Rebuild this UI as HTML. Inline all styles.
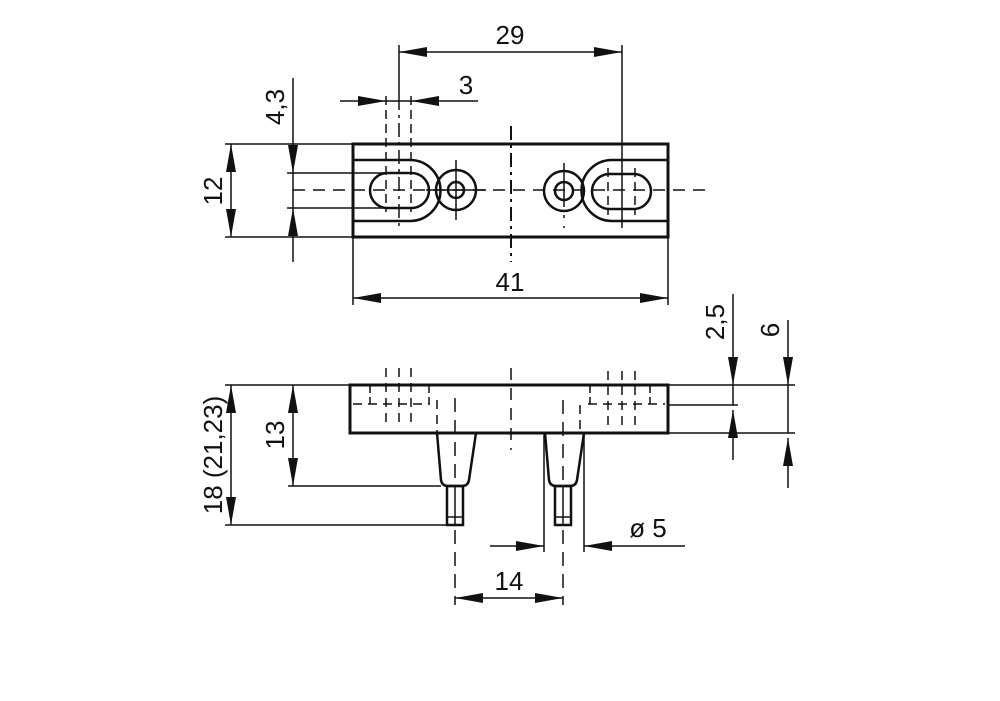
<!DOCTYPE html>
<html><head><meta charset="utf-8"><style>
html,body{margin:0;padding:0;background:#fff;}
svg{display:block;}
text{font-family:"Liberation Sans",sans-serif;font-size:26px;fill:#111;}
</style></head><body>
<svg width="1000" height="701" viewBox="0 0 1000 701" xmlns="http://www.w3.org/2000/svg">
<defs>
<marker id="a" markerWidth="28" markerHeight="10" refX="28" refY="5" orient="auto" markerUnits="userSpaceOnUse">
<path d="M0,0 L28,5 L0,10 Z" fill="#111"/></marker>
</defs>
<g stroke="#111" fill="none">
<!-- TOP VIEW -->
<rect x="353" y="144" width="315" height="93" stroke-width="3"/>
<path d="M353,160 H410 A30,30 0 0 1 410,221 H353" stroke-width="2.5"/>
<path d="M668,160 H612 A30,30 0 0 0 612,221 H668" stroke-width="2.5"/>
<rect x="370" y="173" width="59" height="35" rx="17.5" stroke-width="2.5"/>
<rect x="592" y="174" width="59" height="35" rx="17.5" stroke-width="2.5"/>
<circle cx="456" cy="190" r="20" stroke-width="2.5"/>
<circle cx="456" cy="190" r="8" stroke-width="2.5"/>
<circle cx="564" cy="191" r="20" stroke-width="2.5"/>
<circle cx="564" cy="191" r="9" stroke-width="2.5"/>
<g stroke-width="1.5">
<line x1="293" y1="190" x2="705" y2="190" stroke-dasharray="12,8"/>
<line x1="511" y1="126" x2="511" y2="262" stroke-dasharray="14,5,3,5" stroke-width="2"/>
<line x1="399" y1="96" x2="399" y2="228" stroke-dasharray="14,5,3,5"/>
<line x1="386" y1="96" x2="386" y2="212" stroke-dasharray="9,5"/>
<line x1="411" y1="96" x2="411" y2="212" stroke-dasharray="9,5"/>
<line x1="622" y1="45" x2="622" y2="228"/>
<line x1="608" y1="168" x2="608" y2="215" stroke-dasharray="9,5"/>
<line x1="635" y1="168" x2="635" y2="215" stroke-dasharray="9,5"/>
<line x1="456" y1="160" x2="456" y2="220"/>
<line x1="426" y1="190" x2="486" y2="190"/>
<line x1="564" y1="163" x2="564" y2="228" stroke-dasharray="44,8,3,8"/>
<!-- 29 -->
<line x1="399" y1="45" x2="399" y2="96"/>
<line x1="510" y1="52" x2="399" y2="52" marker-end="url(#a)"/>
<line x1="510" y1="52" x2="622" y2="52" marker-end="url(#a)"/>
<!-- 3 -->
<line x1="340" y1="101" x2="386" y2="101" marker-end="url(#a)"/>
<line x1="478" y1="101" x2="411" y2="101" marker-end="url(#a)"/>
<line x1="386" y1="101" x2="411" y2="101"/>
<!-- 4,3 & 12 -->
<line x1="225" y1="144" x2="353" y2="144"/>
<line x1="225" y1="237" x2="353" y2="237"/>
<line x1="287" y1="173" x2="400" y2="173"/>
<line x1="287" y1="208" x2="400" y2="208"/>
<line x1="293" y1="78" x2="293" y2="173" marker-end="url(#a)"/>
<line x1="293" y1="173" x2="293" y2="208"/>
<line x1="293" y1="262" x2="293" y2="208" marker-end="url(#a)"/>
<line x1="231" y1="190" x2="231" y2="144" marker-end="url(#a)"/>
<line x1="231" y1="190" x2="231" y2="237" marker-end="url(#a)"/>
<!-- 41 -->
<line x1="353" y1="237" x2="353" y2="305"/>
<line x1="668" y1="237" x2="668" y2="305"/>
<line x1="510" y1="298" x2="353" y2="298" marker-end="url(#a)"/>
<line x1="510" y1="298" x2="668" y2="298" marker-end="url(#a)"/>
</g>

<!-- SIDE VIEW -->
<rect x="350" y="385" width="318" height="48" stroke-width="3"/>
<path d="M437,433 L441,480 Q442,486 448,486 H462 Q468,486 469,480 L476,433" stroke-width="2.5"/>
<rect x="447" y="486" width="16" height="39" stroke-width="2.5"/>
<path d="M545,433 L549,480 Q550,486 556,486 H570 Q576,486 577,480 L584,433" stroke-width="2.5"/>
<rect x="555" y="486" width="16" height="39" stroke-width="2.5"/>
<g stroke-width="1.5">
<line x1="447" y1="517" x2="463" y2="517"/>
<line x1="455" y1="486" x2="455" y2="525"/>
<line x1="555" y1="517" x2="571" y2="517"/>
<line x1="563" y1="486" x2="563" y2="525"/>
<line x1="511" y1="368" x2="511" y2="450" stroke-dasharray="12,8"/>
<line x1="386" y1="368" x2="386" y2="425" stroke-dasharray="9,6"/>
<line x1="399" y1="368" x2="399" y2="425" stroke-dasharray="9,6"/>
<line x1="411" y1="368" x2="411" y2="425" stroke-dasharray="9,6"/>
<line x1="353" y1="404" x2="430" y2="404" stroke-dasharray="9,6"/>
<line x1="370" y1="385" x2="370" y2="404" stroke-dasharray="8,4"/>
<line x1="429" y1="385" x2="429" y2="404" stroke-dasharray="8,4"/>
<line x1="608" y1="371" x2="608" y2="425" stroke-dasharray="9,6"/>
<line x1="622" y1="371" x2="622" y2="425" stroke-dasharray="9,6"/>
<line x1="635" y1="371" x2="635" y2="425" stroke-dasharray="9,6"/>
<line x1="588" y1="404" x2="665" y2="404" stroke-dasharray="9,6"/>
<line x1="590" y1="385" x2="590" y2="404" stroke-dasharray="8,4"/>
<line x1="650" y1="385" x2="650" y2="404" stroke-dasharray="8,4"/>
<line x1="437" y1="400" x2="437" y2="433" stroke-dasharray="9,6"/>
<line x1="580" y1="405" x2="580" y2="433" stroke-dasharray="9,6"/>
<line x1="455" y1="398" x2="455" y2="486" stroke-dasharray="14,8"/>
<line x1="563" y1="400" x2="563" y2="486" stroke-dasharray="14,8"/>
<line x1="455" y1="530" x2="455" y2="605" stroke-dasharray="14,8"/>
<line x1="563" y1="530" x2="563" y2="605" stroke-dasharray="14,8"/>
<!-- 14 -->
<line x1="509" y1="598" x2="455" y2="598" marker-end="url(#a)"/>
<line x1="509" y1="598" x2="563" y2="598" marker-end="url(#a)"/>
<!-- dia 5 -->
<line x1="544" y1="433" x2="544" y2="552"/>
<line x1="584" y1="433" x2="584" y2="552"/>
<line x1="490" y1="546" x2="544" y2="546" marker-end="url(#a)"/>
<line x1="685" y1="546" x2="584" y2="546" marker-end="url(#a)"/>
<!-- 13 / 18 -->
<line x1="225" y1="385" x2="350" y2="385"/>
<line x1="288" y1="486" x2="441" y2="486"/>
<line x1="225" y1="525" x2="447" y2="525"/>
<line x1="293" y1="435" x2="293" y2="385" marker-end="url(#a)"/>
<line x1="293" y1="435" x2="293" y2="486" marker-end="url(#a)"/>
<line x1="231" y1="455" x2="231" y2="385" marker-end="url(#a)"/>
<line x1="231" y1="455" x2="231" y2="525" marker-end="url(#a)"/>
<!-- 2,5 / 6 -->
<line x1="668" y1="385" x2="795" y2="385"/>
<line x1="668" y1="405" x2="738" y2="405"/>
<line x1="668" y1="433" x2="795" y2="433"/>
<line x1="733" y1="294" x2="733" y2="385" marker-end="url(#a)"/>
<line x1="733" y1="385" x2="733" y2="405"/>
<line x1="733" y1="460" x2="733" y2="410" marker-end="url(#a)"/>
<line x1="788" y1="320" x2="788" y2="385" marker-end="url(#a)"/>
<line x1="788" y1="385" x2="788" y2="433"/>
<line x1="788" y1="488" x2="788" y2="438" marker-end="url(#a)"/>
</g>
</g>
<text x="510" y="44" text-anchor="middle">29</text>
<text x="466" y="94" text-anchor="middle">3</text>
<text x="510" y="291" text-anchor="middle">41</text>
<text transform="translate(284,107) rotate(-90)" text-anchor="middle">4,3</text>
<text transform="translate(222,191) rotate(-90)" text-anchor="middle">12</text>
<text transform="translate(284,435) rotate(-90)" text-anchor="middle">13</text>
<text transform="translate(222,455) rotate(-90)" text-anchor="middle">18 (21,23)</text>
<text transform="translate(724,322) rotate(-90)" text-anchor="middle">2,5</text>
<text transform="translate(779,330) rotate(-90)" text-anchor="middle">6</text>
<text x="509" y="590" text-anchor="middle">14</text>
<text x="648" y="537" text-anchor="middle">ø 5</text>
</svg>
</body></html>
